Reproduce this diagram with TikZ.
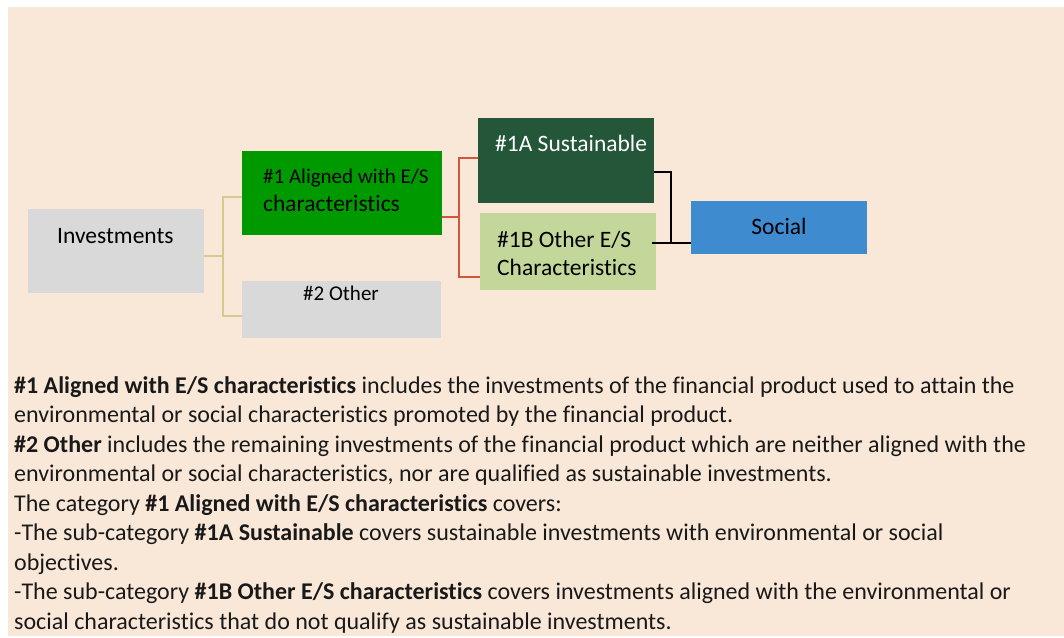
\documentclass[tikz,border=0pt]{standalone}
\usepackage{fontspec}
\setmainfont{Carlito}[Ligatures=NoCommon]
\usepackage{xcolor}
\usetikzlibrary{positioning,calc}
\definecolor{PeachBg}{HTML}{F9E8D8}
\definecolor{BoxGray}{HTML}{D9D9D9}
\definecolor{AlignGreen}{HTML}{009900}
\definecolor{SustGreen}{HTML}{245639}
\definecolor{OtherGreen}{HTML}{C4D79B}
\definecolor{SocialBlue}{HTML}{3E8BCF}
\definecolor{LinkYellow}{HTML}{D6CB8C}
\definecolor{LinkRed}{HTML}{D2573A}

\tikzset{
  box/.style={draw=none, anchor=north west, inner sep=0pt, outer sep=0pt},
  boxtext/.style={font=\fontsize{23.5}{28}\selectfont, inner sep=0pt, align=left},
  smalltext/.style={font=\fontsize{21}{28}\selectfont},
  linkA/.style={line width=2pt, LinkYellow},
  linkB/.style={line width=2pt, LinkRed},
  linkC/.style={line width=1.6pt, black}
}

\begin{document}
\begin{tikzpicture}[x=1pt, y=-1pt]
    % Frame and background
    \useasboundingbox (0,0) rectangle (1064,637);
    \fill[PeachBg] (8,7) rectangle (1064,636);

    % Boxes
    \node[box, fill=BoxGray, minimum width=176pt, minimum height=84pt] (inv) at (28,209) {};
    \node[box, fill=AlignGreen, minimum width=200pt, minimum height=84pt] (al) at (242,151) {};
    \node[box, fill=BoxGray, minimum width=199pt, minimum height=57pt] (oth) at (242,281) {};
    \node[box, fill=SustGreen, minimum width=176pt, minimum height=85pt] (sus) at (478,118) {};
    \node[box, fill=OtherGreen, minimum width=176pt, minimum height=77pt] (ob) at (480,213) {};
    \node[box, fill=SocialBlue, minimum width=176pt, minimum height=53pt] (soc) at (691,201) {};

    % Box texts
    \node[boxtext, anchor=base west] (inv-t) at (57,243) {Investments};
    \node[boxtext, smalltext, anchor=base west] (al-t1) at (263,183) {\#1 Aligned with E/S};
    \node[boxtext, anchor=base west] (al-t2) at (263,211) {characteristics};
    \node[boxtext, smalltext, anchor=base] (oth-t) at (341,300) {\#2 Other};
    \node[boxtext, anchor=base west, white] (sus-t) at (495,151) {\#1A Sustainable};
    \node[boxtext, anchor=base west] (ob-t1) at (497,247) {\#1B Other E/S};
    \node[boxtext, anchor=base west] (ob-t2) at (497,275) {Characteristics};
    \node[boxtext, anchor=base] (soc-t) at (779,234) {Social};

    % Connectors
    \draw[linkA] ([yshift=-5pt]inv.east) -- ++(19,0) |- ([yshift=-4pt]al.west);
    \draw[linkA] ([yshift=-5pt]inv.east) -- ++(19,0) |- ([yshift=-6.5pt]oth.west);
    \draw[linkB] ([yshift=-24pt]al.east) -- ++(17,0) |- ([yshift=2.5pt]sus.west);
    \draw[linkB] ([yshift=-24pt]al.east) -- ++(17,0) |- ([yshift=-25.5pt]ob.west);
    \draw[linkC] ([yshift=-11.5pt]sus.east) -- ++(17,0) |- ([yshift=-15.5pt]soc.west);
    \draw[linkC] ([xshift=-4pt,yshift=8.5pt]ob.east) -- ([yshift=-15.5pt]soc.west);

    % Explanation text (base anchor sits on the last line)
    \node[anchor=base west, inner sep=0pt, align=left,
          font=\fontsize{24}{29.5}\selectfont, text=black!90] (notes) at (14,629) {%
        \textbf{\#1 Aligned with E/S characteristics} includes the investments of the financial product used to attain the\\
        environmental or social characteristics promoted by the financial product.\\
        \textbf{\#2 Other} includes the remaining investments of the financial product which are neither aligned with the\\
        environmental or social characteristics, nor are qualified as sustainable investments.\\
        The category \textbf{\#1 Aligned with E/S characteristics} covers:\\
        -The sub-category \textbf{\#1A Sustainable} covers sustainable investments with environmental or social\\
        objectives.\\
        -The sub-category \textbf{\#1B Other E/S characteristics} covers investments aligned with the environmental or\\
        social characteristics that do not qualify as sustainable investments.};
\end{tikzpicture}
\end{document}
